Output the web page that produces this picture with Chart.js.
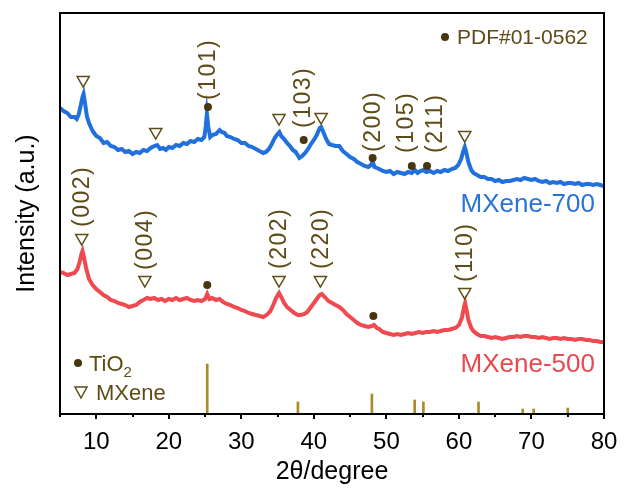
<!DOCTYPE html>
<html>
<head>
<meta charset="utf-8">
<script src="https://cdn.jsdelivr.net/npm/chart.js@4.4.1/dist/chart.umd.min.js"></script>
<style>
  html, body { margin: 0; padding: 0; background: #fff; }
  #wrap { width: 624px; height: 488px; }
</style>
</head>
<body>
<div id="wrap"><canvas id="xrd"></canvas></div>
<script>
// XRD patterns, intensity in arbitrary units (curves stacked with an offset)
const twoTheta700 = [
  5, 5.5, 6, 6.5, 7, 7.3, 7.6, 7.9, 8.1, 8.25,
  8.45, 8.7, 9, 9.5, 10, 10.5, 11, 11.5, 12, 12.5,
  13, 13.5, 14, 14.5, 15, 15.5, 16, 16.5, 17, 17.5,
  18, 18.4, 18.8, 19.2, 19.6, 20, 20.5, 21, 21.5, 22,
  22.5, 23, 23.5, 24, 24.5, 24.9, 25.1, 25.25, 25.45, 25.7,
  26, 26.5, 27, 27.3, 27.7, 28, 28.5, 29, 29.5, 30,
  30.5, 31, 31.5, 32, 32.5, 33, 33.4, 33.8, 34.2, 34.6,
  35, 35.25, 35.5, 35.9, 36.3, 36.7, 37.1, 37.5, 38, 38.4,
  38.8, 39.2, 39.6, 40, 40.4, 40.8, 41, 41.3, 41.7, 42.1,
  42.5, 43, 43.5, 44, 44.5, 45, 45.5, 46, 46.5, 47,
  47.5, 47.9, 48.1, 48.35, 48.7, 49, 49.5, 50, 50.5, 51,
  51.5, 52, 52.5, 53, 53.5, 53.9, 54.3, 54.7, 55.1, 55.5,
  56, 56.5, 57, 57.5, 58, 58.5, 59, 59.5, 59.9, 60.3,
  60.6, 60.8, 61, 61.3, 61.7, 62, 62.5, 63, 63.5, 64,
  64.5, 65, 65.5, 66, 66.5, 67, 67.5, 68, 68.5, 69,
  69.5, 70, 70.5, 71, 71.5, 72, 72.5, 73, 73.5, 74,
  74.5, 75, 75.5, 76, 76.5, 77, 77.5, 78, 78.5, 79,
  79.5, 80
];
const mxene700 = [
  306, 303, 301, 297, 297, 295, 300, 310, 317, 320,
  311, 298, 291, 283, 278, 276, 271, 272, 268, 267,
  264, 265, 262, 263, 260, 262, 261, 264, 263, 266,
  268, 269, 265, 266, 264, 267, 266, 269, 268, 271,
  270, 273, 272, 275, 274, 277, 288, 300, 287, 277,
  279, 280, 284, 282, 281, 278, 277, 275, 274, 271,
  271, 268, 267, 265, 263, 261, 262, 265, 270, 276,
  280, 282, 278, 275, 271, 268, 264, 262, 256, 258,
  261, 265, 270, 274, 279, 286, 287, 282, 275, 270,
  269, 268, 268, 263, 260, 257, 255, 252, 250, 248,
  247, 249, 253, 247, 246, 245, 243, 242, 243, 240,
  242, 241, 240, 242, 241, 244, 241, 243, 244, 242,
  243, 241, 243, 242, 244, 243, 245, 246, 249, 255,
  263, 267, 262, 252, 244, 241, 239, 237, 237, 235,
  235, 233, 234, 232, 233, 233, 234, 235, 234, 236,
  235, 234, 235, 233, 232, 233, 231, 232, 231, 232,
  230, 231, 231, 230, 231, 229, 230, 230, 229, 230,
  229, 228
];

const twoTheta500 = [
  5, 5.5, 6, 6.5, 7, 7.4, 7.7, 7.95, 8.1, 8.3,
  8.6, 9, 9.5, 10, 10.5, 11, 11.5, 12, 12.5, 13,
  13.5, 14, 14.5, 15, 15.5, 16, 16.5, 17, 17.5, 18,
  18.5, 19, 19.5, 20, 20.5, 21, 21.5, 22, 22.5, 23,
  23.5, 24, 24.5, 25, 25.3, 25.6, 26, 26.5, 27, 27.5,
  28, 28.5, 29, 29.5, 30, 30.5, 31, 31.5, 32, 32.5,
  33, 33.5, 34, 34.4, 34.8, 35.2, 35.5, 35.9, 36.3, 36.8,
  37.3, 37.8, 38.2, 38.7, 39.1, 39.5, 40, 40.4, 40.8, 41.1,
  41.5, 42, 42.5, 43, 43.5, 44, 44.5, 45, 45.5, 46,
  46.5, 47, 47.5, 48, 48.3, 48.7, 49, 49.5, 50, 50.5,
  51, 51.5, 52, 52.5, 53, 53.5, 54, 54.5, 55, 55.5,
  56, 56.5, 57, 57.5, 58, 58.5, 59, 59.5, 60, 60.4,
  60.7, 60.85, 61.05, 61.3, 61.7, 62, 62.5, 63, 63.5, 64,
  64.5, 65, 65.5, 66, 66.5, 67, 67.5, 68, 68.5, 69,
  69.5, 70, 70.5, 71, 71.5, 72, 72.5, 73, 73.5, 74,
  74.5, 75, 75.5, 76, 76.5, 77, 77.5, 78, 78.5, 79,
  79.5, 80
];
const mxene500 = [
  142, 141, 139, 140, 141, 145, 152, 160, 163, 157,
  146, 135, 129, 125, 122, 119, 117, 114, 113, 111,
  110, 109, 107, 108, 109, 112, 114, 116, 115, 116,
  114, 115, 113, 115, 114, 116, 114, 115, 116, 114,
  113, 114, 113, 115, 120, 115, 116, 114, 115, 112,
  110, 109, 107, 106, 104, 103, 101, 100, 99, 98,
  97, 99, 103, 109, 116, 121, 117, 111, 107, 104,
  101, 99, 99, 100, 102, 106, 111, 115, 119, 120,
  117, 113, 111, 109, 107, 104, 100, 97, 94, 91,
  89, 88, 87, 88, 89, 86, 85, 82, 81, 80,
  79, 80, 79, 80, 81, 80, 81, 82, 81, 82,
  82, 83, 82, 83, 84, 84, 85, 86, 89, 96,
  107, 111, 104, 94, 86, 83, 80, 78, 78, 77,
  76, 77, 76, 75, 76, 77, 77, 78, 77, 78,
  78, 77, 77, 76, 77, 76, 75, 76, 76, 75,
  76, 75, 75, 74, 75, 75, 74, 74, 73, 73,
  72, 72
];

// anatase reference lines, PDF#01-0562
const pdfAngles = [25.3, 37.8, 48.0, 53.9, 55.1, 62.7, 68.8, 70.3, 75.0];
const pdfHeights = [50, 12, 20, 14, 12, 12, 5, 5, 6];

// peak markers: open triangles for MXene, dots for TiO2
const mxeneMarkX = [8.2, 18.2, 35.2, 41.0, 60.8, 8.0, 16.7, 35.2, 40.9, 60.8];
const mxeneMarkY = [334, 282, 296, 297, 279, 176, 134, 134, 134, 122];
const tio2MarkX = [25.4, 38.6, 48.1, 53.5, 55.6, 25.3, 48.2];
const tio2MarkY = [307, 274, 256, 248, 248, 129, 98];

// hkl labels (x, lower end of the rotated text)
const hklText = ['(101)', '(103)', '(200)', '(105)', '(211)', '(002)', '(004)', '(202)', '(220)', '(110)'];
const hklX = [25.4, 38.5, 48.1, 52.7, 56.6, 8.0, 16.7, 35.2, 40.9, 60.8];
const hklY = [314, 286, 262, 261, 261, 187, 144, 145, 145, 132];

const xTicks = [10, 20, 30, 40, 50, 60, 70, 80];
const xMinorTicks = [5, 15, 25, 35, 45, 55, 65, 75];

const FONT = '"Liberation Sans", Arial, sans-serif';
const OLIVE = '#5e4b16';
const DOT = '#4a360e';

const toXY = (xs, ys) => xs.map((x, i) => ({ x, y: ys[i] }));

const decor = {
  id: 'decor',
  afterDatasetsDraw(chart) {
    const { ctx, chartArea: a, scales: { x, y } } = chart;
    ctx.save();
    // rotated hkl labels
    ctx.fillStyle = OLIVE;
    ctx.font = `23px ${FONT}`;
    ctx.letterSpacing = '1.5px';
    ctx.textAlign = 'left';
    ctx.textBaseline = 'middle';
    hklText.forEach((t, i) => {
      ctx.save();
      ctx.translate(x.getPixelForValue(hklX[i]), y.getPixelForValue(hklY[i]));
      ctx.rotate(-Math.PI / 2);
      ctx.fillText(t, 0, 1);
      ctx.restore();
    });
    ctx.letterSpacing = '0px';

    // series names
    ctx.textAlign = 'right';
    ctx.textBaseline = 'alphabetic';
    ctx.font = `26px ${FONT}`;
    ctx.fillStyle = '#2a74d6';
    ctx.fillText('MXene-700', a.right - 9, 212);
    ctx.fillStyle = '#e8484e';
    ctx.fillText('MXene-500', a.right - 9, 372);

    // reference card key, top right
    ctx.fillStyle = DOT;
    ctx.beginPath();
    ctx.arc(445, 37, 4, 0, Math.PI * 2);
    ctx.fill();
    ctx.fillStyle = OLIVE;
    ctx.textAlign = 'left';
    ctx.font = `21px ${FONT}`;
    ctx.fillText('PDF#01-0562', 457, 44);

    // phase key, bottom left
    ctx.fillStyle = DOT;
    ctx.beginPath();
    ctx.arc(78, 363, 4, 0, Math.PI * 2);
    ctx.fill();
    ctx.fillStyle = OLIVE;
    ctx.font = `22px ${FONT}`;
    ctx.fillText('TiO', 89, 371);
    const w = ctx.measureText('TiO').width;
    ctx.font = `15px ${FONT}`;
    ctx.fillText('2', 89 + w, 377);
    ctx.strokeStyle = OLIVE;
    ctx.lineWidth = 1.5;
    ctx.beginPath();
    ctx.moveTo(75, 387);
    ctx.lineTo(87, 387);
    ctx.lineTo(81, 398);
    ctx.closePath();
    ctx.stroke();
    ctx.font = `22px ${FONT}`;
    ctx.fillText('MXene', 96, 400);
    ctx.restore();
  },
  afterDraw(chart) {
    const { ctx, chartArea: a, scales: { x } } = chart;
    ctx.save();
    ctx.strokeStyle = '#000';
    ctx.lineWidth = 2;
    ctx.strokeRect(a.left, a.top, a.right - a.left, a.bottom - a.top);
    // outward ticks: long at labelled values, short in between
    const tick = (v, len) => {
      const px = Math.round(x.getPixelForValue(v));
      ctx.beginPath();
      ctx.moveTo(px, a.bottom);
      ctx.lineTo(px, a.bottom + len);
      ctx.stroke();
    };
    xTicks.forEach(v => tick(v, 5));
    xMinorTicks.forEach(v => tick(v, 3));
    ctx.restore();
  }
};

new Chart(document.getElementById('xrd'), {
  type: 'line',
  data: {
    datasets: [
      {
        type: 'bar',
        data: toXY(pdfAngles, pdfHeights),
        backgroundColor: '#a88c2c',
        barThickness: 2,
        order: 5
      },
      {
        data: toXY(twoTheta700, mxene700),
        borderColor: '#2170dc',
        borderWidth: 4,
        pointRadius: 0,
        tension: 0,
        order: 4
      },
      {
        data: toXY(twoTheta500, mxene500),
        borderColor: '#ef4a50',
        borderWidth: 4,
        pointRadius: 0,
        tension: 0,
        order: 3
      },
      {
        data: toXY(mxeneMarkX, mxeneMarkY),
        showLine: false,
        pointStyle: 'triangle',
        rotation: 180,
        pointRadius: 7,
        pointBorderWidth: 1.5,
        pointBorderColor: OLIVE,
        pointBackgroundColor: 'rgba(255,255,255,0)',
        order: 2
      },
      {
        data: toXY(tio2MarkX, tio2MarkY),
        showLine: false,
        pointStyle: 'circle',
        pointRadius: 4,
        pointBorderWidth: 0,
        pointBackgroundColor: DOT,
        order: 1
      }
    ]
  },
  options: {
    responsive: true,
    maintainAspectRatio: false,
    animation: false,
    events: [],
    layout: { padding: { top: 13, right: 20, left: 0, bottom: 0 } },
    plugins: { legend: { display: false }, tooltip: { enabled: false } },
    scales: {
      x: {
        type: 'linear',
        min: 5,
        max: 80,
        offset: false,
        afterBuildTicks: (s) => { s.ticks = xTicks.map(v => ({ value: v })); },
        afterFit: (s) => { s.height = 74; },
        // tick marks are drawn by the plugin; the long invisible ones only push labels down
        grid: { drawOnChartArea: false, drawTicks: true, tickLength: 11, tickColor: 'rgba(0,0,0,0)' },
        border: { display: false },
        ticks: { color: '#000', font: { family: FONT, size: 24 }, padding: 3, maxRotation: 0 },
        title: { display: true, text: '2θ/degree', color: '#000', font: { family: FONT, size: 25 }, padding: { top: 0, bottom: 1 } }
      },
      y: {
        min: 0,
        max: 401,
        afterFit: (s) => { s.width = 60; },
        grid: { display: false },
        border: { display: false },
        ticks: { display: false },
        title: { display: true, text: 'Intensity (a.u.)', color: '#000', font: { family: FONT, size: 25 }, padding: { top: 12, bottom: 0 } }
      }
    }
  },
  plugins: [decor]
});
</script>
</body>
</html>
